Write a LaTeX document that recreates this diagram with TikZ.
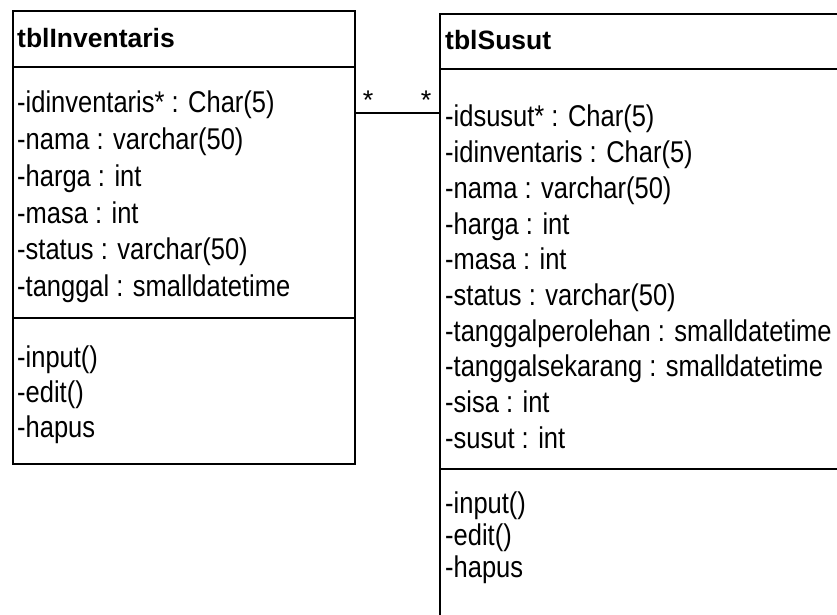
\documentclass[tikz,border=0pt]{standalone}
\usepackage{fontspec}
\setmainfont{Liberation Sans}
\newfontfamily\attrfont[FakeStretch=0.85]{Liberation Sans}
\begin{document}
\begin{tikzpicture}[x=1pt,y=-1pt,
  classbox/.style={draw=black,line width=1.6pt,rectangle,inner sep=0pt,anchor=north west},
  sepline/.style={draw=black,line width=1.6pt},
  title/.style={anchor=base west,inner sep=0pt,font=\fontsize{26.5}{31}\selectfont\bfseries},
  member/.style={anchor=base west,inner sep=0pt,font=\attrfont\fontsize{30}{36}\selectfont},
  mult/.style={anchor=base,inner sep=0pt,font=\fontsize{27}{32}\selectfont},
  assoc/.style={draw=black,line width=1.6pt}]
\useasboundingbox (0,0) rectangle (837,615);
\clip (0,0) rectangle (837,615);

% class tblInventaris
\node[classbox,minimum width=342pt,minimum height=453pt] (inv) at (12,10) {};
\draw[sepline] (12,67) -- (354,67);
\draw[sepline] (12,318) -- (354,318);
\node[title] (invt) at (17,47.3) {tblInventaris};
\node[member] (i1) at (17,113) {-idinventaris* : Char(5)};
\node[member] (i2) at (17,149.7) {-nama : varchar(50)};
\node[member] (i3) at (17,186.4) {-harga : int};
\node[member] (i4) at (17,223) {-masa : int};
\node[member] (i5) at (17,259.8) {-status : varchar(50)};
\node[member] (i6) at (17,296.5) {-tanggal : smalldatetime};
\node[member] (i7) at (17,367) {-input()};
\node[member] (i8) at (17,402) {-edit()};
\node[member] (i9) at (17,437) {-hapus};

% class tblSusut
\node[classbox,minimum width=450pt,minimum height=650pt] (sus) at (439,13) {};
\draw[sepline] (439,69) -- (900,69);
\draw[sepline] (439,469) -- (900,469);
\node[title] (sust) at (445,49.5) {tblSusut};
\node[member] (s1) at (445,127) {-idsusut* : Char(5)};
\node[member] (s2) at (445,162.7) {-idinventaris : Char(5)};
\node[member] (s3) at (445,198.3) {-nama : varchar(50)};
\node[member] (s4) at (445,234) {-harga : int};
\node[member] (s5) at (445,269.7) {-masa : int};
\node[member] (s6) at (445,305.3) {-status : varchar(50)};
\node[member] (s7) at (445,341) {-tanggalperolehan : smalldatetime};
\node[member] (s8) at (445,376.7) {-tanggalsekarang : smalldatetime};
\node[member] (s9) at (445,412.3) {-sisa : int};
\node[member] (s10) at (445,448) {-susut : int};
\node[member] (s11) at (445,513.5) {-input()};
\node[member] (s12) at (445,545) {-edit()};
\node[member] (s13) at (445,577) {-hapus};

% association with multiplicities
\coordinate (lvl) at (0,113);
\draw[assoc] (inv.east |- lvl) -- (sus.west |- lvl);
\node[mult] (m1) at (368,110) {*};
\node[mult] (m2) at (426,110) {*};
\end{tikzpicture}
\end{document}
